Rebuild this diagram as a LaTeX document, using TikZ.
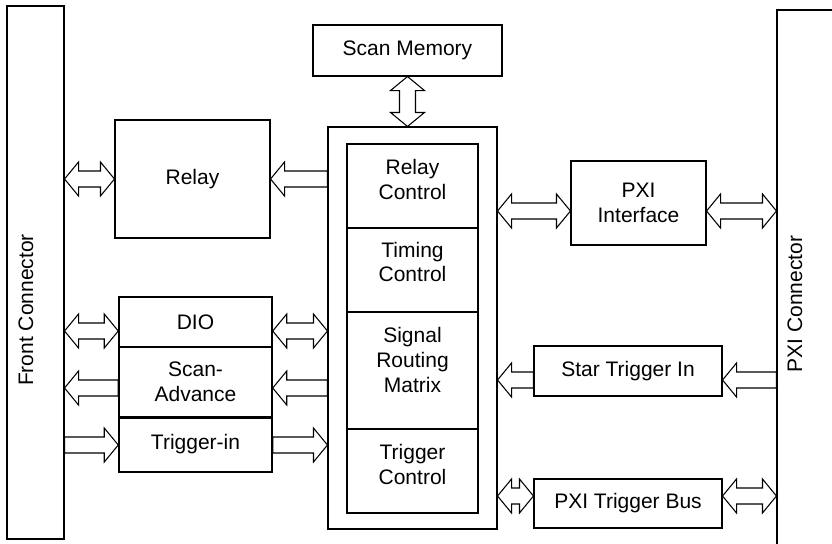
\documentclass[tikz,border=0pt]{standalone}
\usepackage{fontspec}
\setmainfont{Liberation Sans}
\usetikzlibrary{calc}

\tikzset{
  fat/.style={line width=0.8pt, fill=white, to path={
    let \p1=(\tikztostart), \p2=(\tikztotarget),
        \p3=($(\p2)!10.5pt!(\p1)$) in
    ($(\p1)!6pt!90:(\p2)$) -- ($(\p3)!6pt!90:(\p2)$) -- ($(\p3)!12.75pt!90:(\p2)$)
    -- (\p2) -- ($(\p3)!12.75pt!-90:(\p2)$) -- ($(\p3)!6pt!-90:(\p2)$)
    -- ($(\p1)!6pt!-90:(\p2)$) -- cycle}},
  fatboth/.style={line width=0.8pt, fill=white, to path={
    let \p1=(\tikztostart), \p2=(\tikztotarget),
        \p3=($(\p1)!10.5pt!(\p2)$), \p4=($(\p2)!10.5pt!(\p1)$) in
    (\p1) -- ($(\p3)!12.75pt!90:(\p2)$) -- ($(\p3)!6pt!90:(\p2)$)
    -- ($(\p4)!6pt!90:(\p2)$) -- ($(\p4)!12.75pt!90:(\p2)$) -- (\p2)
    -- ($(\p4)!12.75pt!-90:(\p2)$) -- ($(\p4)!6pt!-90:(\p2)$)
    -- ($(\p3)!6pt!-90:(\p2)$) -- ($(\p3)!12.75pt!-90:(\p2)$) -- cycle}}
}

\begin{document}
\begin{tikzpicture}[x=0.75pt, y=-0.75pt,
  every node/.style={font=\fontsize{15.75}{18.5}\selectfont, align=center},
  box/.style={rectangle, draw, line width=0.8pt},
  cell/.style={rectangle, draw, line width=1.4pt, minimum width=98.25pt},
  dstack/.style={rectangle, draw, line width=1.1pt, minimum width=114.75pt}]

  \useasboundingbox (0,0) rectangle (832,543);

  % connectors on both sides
  \node[box, minimum width=42.75pt, minimum height=399.75pt] (fc) at (35.5,272.5) {};
  \node[rotate=90] (fclabel) at (26,310) {Front Connector};
  \node[box, minimum width=62.25pt, minimum height=412.5pt] (pxi) at (818.5,285) {};
  \node[rotate=90] (pxilabel) at (795,304) {PXI Connector};

  \node[box, minimum width=116.25pt, minimum height=88.5pt] (relay) at (192.5,179) {Relay};
  \node[box, minimum width=141.75pt, minimum height=38.25pt] (scanmem) at (407.5,50.5) {Scan Memory};

  % control block
  \node[box, minimum width=126.75pt, minimum height=301.5pt] (ctl) at (412.5,328) {};
  \node[cell, minimum height=63pt] (rc) at (412.5,186) {};
  \node[cell, minimum height=63pt, below of=rc, node distance=63pt] (tc) {};
  \node[cell, minimum height=87.75pt, below of=tc, node distance=75.375pt] (srm) {};
  \node[cell, minimum height=63pt, below of=srm, node distance=75.375pt] (trc) {};
  \node at ([yshift=5pt]rc.center) {Relay\\Control};
  \node at ([yshift=6pt]tc.center) {Timing\\Control};
  \node at ([yshift=8pt]srm.center) {Signal\\Routing\\Matrix};
  \node at ([yshift=5pt]trc.center) {Trigger\\Control};

  \node[box, minimum width=101.25pt, minimum height=63pt] (pxiif) at (638.5,203) {PXI\\Interface};
  \node[box, minimum width=141pt, minimum height=37.5pt] (star) at (628,371) {Star Trigger In};
  \node[box, minimum width=141pt, minimum height=36.75pt, below of=star, node distance=99.375pt] (bus) {PXI Trigger Bus};

  % dio stack
  \node[dstack, minimum height=37.5pt] (dio) at (195.5,322) {DIO};
  \node[dstack, minimum height=52.5pt, below of=dio, node distance=45pt] (adv) {Scan-\\Advance};
  \node[dstack, minimum height=41.25pt, below of=adv, node distance=46.875pt] (trg) {Trigger-in};
  \draw[line width=2.4pt] (adv.south west) -- (adv.south east);

  % wide arrows
  \draw[fatboth] (fc.east |- relay) to (relay.west);
  \draw[fat] (ctl.west |- relay) to (relay.east);
  \draw[fatboth] (scanmem.south) to (scanmem.south |- ctl.north);
  \draw[fatboth] (ctl.east |- 0,211) to (pxiif.west |- 0,211);
  \draw[fatboth] (pxiif.east |- 0,211) to (pxi.west |- 0,211);
  \draw[fat] (pxi.west |- 0,380) to (star.east |- 0,380);
  \draw[fat] (star.west |- 0,380) to (ctl.east |- 0,380);
  \draw[fatboth] (ctl.east |- 0,496) to (bus.west |- 0,496);
  \draw[fatboth] (bus.east |- 0,496) to (pxi.west |- 0,496);
  \draw[fatboth] (fc.east |- 0,331) to (dio.west |- 0,331);
  \draw[fatboth] (dio.east |- 0,331) to (ctl.west |- 0,331);
  \draw[fat] (adv.west |- 0,388) to (fc.east |- 0,388);
  \draw[fat] (ctl.west |- 0,388) to (adv.east |- 0,388);
  \draw[fat] (fc.east |- 0,445) to (trg.west |- 0,445);
  \draw[fat] (trg.east |- 0,445) to (ctl.west |- 0,445);
\end{tikzpicture}
\end{document}
